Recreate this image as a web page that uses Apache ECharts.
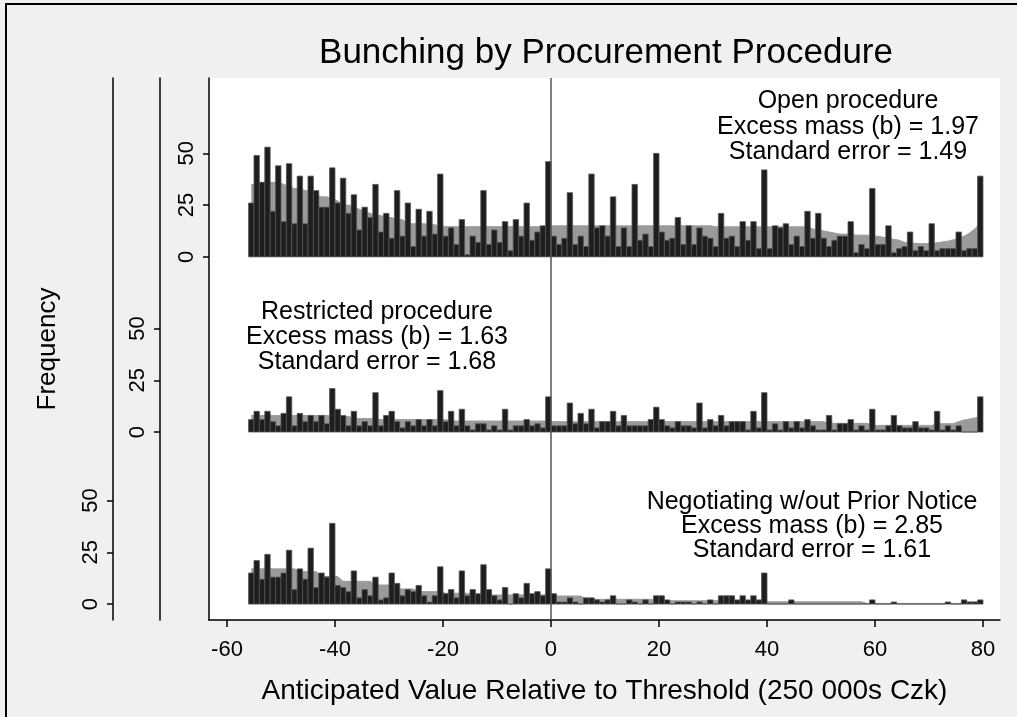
<!DOCTYPE html>
<html>
<head>
    <meta charset="utf-8">
    <title>Bunching by Procurement Procedure</title>
    <script src="https://cdn.jsdelivr.net/npm/echarts@6/dist/echarts.min.js"></script>
    <style>
        html, body { margin: 0; padding: 0; background: #f0f0f0; }
    </style>
</head>
<body>
    <div id="main" style="width: 1017px;height:717px;"></div>
    <script type="text/javascript">
        // bins are 1 unit wide, first bin starts at -56
        var binStart = -56;
        var xTicks = [-60, -40, -20, 0, 20, 40, 60, 80];
        var yTicks = [0, 25, 50];

        // Open procedure
        var openCounts = [
            26, 49, 36, 53, 22, 44, 17, 45, 16, 39,
            16, 39, 32, 24, 24, 43, 26, 38, 21, 30,
            13, 24, 19, 35, 12, 21, 9, 32, 10, 26,
            5, 23, 10, 22, 11, 40, 10, 14, 6, 18,
            1, 10, 7, 32, 6, 13, 7, 17, 3, 18,
            10, 26, 8, 12, 15, 46,
            10, 6, 9, 31, 6, 10, 5, 40, 14, 15,
            10, 29, 5, 14, 5, 35, 8, 11, 5, 50,
            12, 8, 9, 19, 6, 15, 6, 14, 10, 9,
            5, 21, 9, 10, 5, 17, 8, 17, 4, 42,
            4, 15, 14, 16, 6, 10, 5, 22, 9, 21,
            9, 5, 8, 10, 10, 17, 2, 6, 4, 33,
            6, 6, 15, 2, 4, 5, 12, 3, 5, 3,
            16, 3, 4, 4, 4, 12, 3, 4, 4, 39
        ];
        var openFit = [
            35, 35, 36, 36, 36, 36, 35, 34, 33, 33,
            32, 32, 30, 29, 29, 28, 27, 25, 25, 24,
            23, 22, 21, 20, 20, 19, 19, 18, 18, 16,
            16, 16, 16, 15.5, 15.5, 15, 14.6, 14.6, 14.6, 14.6,
            14.6, 14.6, 14.6, 14.6, 14.6, 14.6, 14.6, 14.6, 14.6, 14.6,
            14.6, 14.6, 14.6, 14.6, 14.6, 14.6,
            15, 15, 15, 15, 15, 15, 15, 15, 15, 15,
            15, 15, 15, 15, 15, 15, 15, 15, 15, 15,
            15, 15, 15, 15, 15, 15, 15, 15, 15, 15,
            14.5, 14.5, 14.5, 14.5, 14.5, 14.5, 14.5, 14.5, 14.5, 14.5,
            14.5, 14.5, 14.5, 14.5, 14.5, 14.5, 14.5, 14.5, 13.5, 13,
            12.5, 12, 11.5, 11, 11, 11, 10.5, 10.5, 10.5, 10,
            10, 9.5, 9, 8.5, 8, 7, 6.8, 6.5, 6.4, 6.4,
            6.5, 6.8, 7.2, 7.6, 8.2, 9, 10, 11.5, 13.5, 16.5
        ];

        // Restricted procedure
        var restrictedCounts = [
            6, 10, 6, 10, 5, 3, 9, 17, 3, 9,
            5, 8, 5, 8, 4, 21, 11, 8, 3, 10,
            3, 5, 3, 19, 3, 8, 10, 5, 2, 5,
            3, 6, 3, 6, 3, 20, 5, 10, 3, 11,
            3, 1, 4, 4, 1, 3, 1, 11, 1, 3,
            3, 6, 3, 4, 2, 17,
            3, 3, 3, 14, 4, 9, 4, 11, 2, 5,
            5, 10, 3, 8, 3, 3, 3, 3, 6, 12,
            6, 3, 2, 5, 3, 3, 2, 14, 2, 6,
            3, 8, 3, 5, 5, 5, 1, 10, 2, 19,
            1, 4, 1, 5, 2, 5, 2, 6, 3, 1,
            1, 8, 1, 4, 4, 6, 1, 3, 1, 11,
            1, 1, 3, 8, 3, 2, 2, 5, 2, 2,
            1, 10, 1, 3, 1, 3, 0, 0, 0, 17
        ];
        var restrictedFit = [
            8, 8, 8, 8, 8, 8, 8, 8, 8, 8,
            8, 8, 8, 8, 8, 7.5, 7.5, 7.5, 7.5, 6.5,
            6.5, 6.5, 6.5, 6.5, 6, 6, 6, 6, 6, 6,
            6, 6, 6, 6, 6, 6, 6, 5.3, 5.3, 5.3,
            5.3, 5.3, 5.3, 5.3, 5.3, 5.3, 5.3, 5.3, 5.3, 5.3,
            5.3, 5.3, 5.3, 5.3, 5.3, 5.3,
            5, 5, 5, 5, 5, 5, 5, 5, 5, 5,
            5, 5, 5, 5, 5, 5, 5, 5, 5, 5,
            5, 5, 5, 5, 5, 5, 5, 5, 5, 5,
            5, 5, 5, 5, 5, 5, 5, 5, 5, 5,
            5, 5, 5, 5, 5, 5, 5, 5, 5, 5,
            5, 4.2, 4.2, 4.2, 4.2, 4.2, 4.2, 4.2, 4.2, 3.2,
            3.2, 3.2, 3.2, 3.2, 3.2, 3.2, 3.2, 3.2, 3.2, 3.2,
            3.2, 4, 4, 4, 4, 5, 5.8, 6.3, 6.8, 7.5
        ];

        // Negotiating w/out prior notice
        var negotiatingCounts = [
            15, 21, 12, 24, 13, 13, 15, 26, 7, 17,
            12, 27, 8, 15, 13, 39, 9, 8, 6, 16,
            3, 7, 4, 13, 2, 3, 15, 10, 4, 7,
            6, 9, 4, 1, 4, 18, 5, 7, 3, 16,
            4, 7, 5, 19, 7, 4, 2, 8, 0, 5,
            3, 10, 5, 6, 4, 17,
            5, 1, 1, 3, 1, 0, 3, 3, 2, 1,
            2, 4, 0, 0, 2, 1, 0, 2, 0, 4,
            4, 2, 0, 1, 1, 1, 0, 1, 0, 2,
            0, 4, 4, 4, 2, 4, 2, 4, 2, 15,
            0, 0, 0, 0, 2, 0, 0, 0, 0, 0,
            0, 0, 0, 0, 0, 0, 0, 0, 0, 2,
            0, 0, 0, 1, 0, 0, 0, 0, 0, 0,
            0, 0, 0, 1, 0, 0, 2, 1, 1, 2
        ];
        var negotiatingFit = [
            17, 17, 17, 17, 17, 17, 17, 17, 17, 15.7,
            15.7, 15.7, 15.7, 13.3, 13.3, 13.3, 13.3, 11, 11, 11,
            11, 11, 11, 9.2, 9.2, 9.2, 9.2, 7.3, 7.3, 7.3,
            7.3, 6, 6, 6, 6, 6, 5.2, 5.2, 5.2, 5.2,
            5.2, 4.4, 4.4, 4.4, 4.4, 4.4, 4.4, 4.4, 4.4, 4.4,
            4.4, 4.4, 4.4, 4.4, 4.4, 4.4,
            3.9, 3.9, 3.9, 3.9, 3.9, 3.9, 2.3, 2.3, 2.3, 2.3,
            2.3, 2.3, 2.3, 2.3, 2.3, 2.3, 2.3, 2.3, 2.3, 1.6,
            1.6, 1.6, 1.6, 1.6, 1.6, 1.6, 1.6, 1.6, 1.6, 1.6,
            1.6, 1.6, 1.6, 1.6, 1.6, 1.6, 1.6, 1.6, 1.6, 1.6,
            1.1, 1.1, 1.1, 1.1, 1.1, 1.1, 1.1, 1.1, 1.1, 1.1,
            1.1, 1.1, 1.1, 1.1, 1.1, 1.1, 1.1, 1.1, 0.3, 0.3,
            0.3, 0.3, 0.3, 0.3, 0.3, 0.3, 0.3, 0.3, 0.3, 0.3,
            0.3, 0.3, 0.3, 0.3, 0.3, 0.3, 0.3, 1, 1, 1
        ];

        var panelNotes = [
            'Open procedure\nExcess mass (b) = 1.97\nStandard error = 1.49',
            'Restricted procedure\nExcess mass (b) = 1.63\nStandard error = 1.68',
            'Negotiating w/out Prior Notice\nExcess mass (b) = 2.85\nStandard error = 1.61'
        ];

        var font = '"Liberation Sans", Arial, sans-serif';
        var myChart = echarts.init(document.getElementById('main'));

        function barData(counts) {
            return counts.map(function (v, i) { return [binStart + i, v]; });
        }
        function fitData(fit) {
            return fit.map(function (v, i) { return [binStart + i + 0.5, v]; });
        }
        // histogram bars, one bin wide
        function renderBin(params, api) {
            var x0 = api.value(0);
            var v = api.value(1);
            var a = api.coord([x0, 0]);
            var b = api.coord([x0 + 1, v]);
            return {
                type: 'rect',
                shape: { x: a[0], y: b[1], width: b[0] - a[0], height: a[1] - b[1] },
                style: { fill: '#1e1e1e', stroke: '#555', lineWidth: 0.8 }
            };
        }
        function yAxisFor(offset, min, max) {
            return {
                type: 'value',
                position: 'left',
                offset: offset,
                min: min,
                max: max,
                axisLine: { show: true, onZero: false, lineStyle: { color: '#000', width: 1.5 } },
                axisTick: { show: true, customValues: yTicks, length: 6, lineStyle: { color: '#000', width: 1.5 } },
                axisLabel: { customValues: yTicks, rotate: 90, fontSize: 22, color: '#000', margin: 11, fontFamily: font },
                splitLine: { show: false }
            };
        }
        function fitSeries(fit, idx) {
            return {
                type: 'line',
                yAxisIndex: idx,
                data: fitData(fit),
                symbol: 'none',
                silent: true,
                z: 1,
                lineStyle: { width: 1, color: '#9a9a9a' },
                areaStyle: { color: '#9a9a9a', opacity: 1, origin: 0 }
            };
        }
        function binSeries(counts, idx) {
            return {
                type: 'custom',
                yAxisIndex: idx,
                data: barData(counts),
                renderItem: renderBin,
                encode: { x: 0, y: 1 },
                silent: true,
                z: 3
            };
        }
        function note(text, x, y, lh) {
            return {
                type: 'text', x: x, y: y, silent: true,
                style: {
                    text: text, font: '25px ' + font, fill: '#000', lineHeight: lh,
                    textAlign: 'center', textVerticalAlign: 'middle', align: 'center', verticalAlign: 'middle'
                }
            };
        }

        var option = {
            animation: false,
            backgroundColor: '#f0f0f0',
            textStyle: { fontFamily: font },
            grid: {
                left: 209, top: 78, width: 791, height: 542,
                show: true, backgroundColor: '#fff', borderWidth: 0
            },
            xAxis: {
                type: 'value',
                min: -63.33,
                max: 83.15,
                axisLine: { show: true, onZero: false, lineStyle: { color: '#000', width: 1.5 } },
                axisTick: { show: true, customValues: xTicks, length: 7, lineStyle: { color: '#000', width: 1.5 } },
                axisLabel: { customValues: xTicks, fontSize: 22, color: '#000', margin: 19, fontFamily: font },
                splitLine: { show: false },
                name: 'Anticipated Value Relative to Threshold (250 000s Czk)',
                nameLocation: 'middle',
                nameGap: 57,
                nameTextStyle: { fontSize: 28, color: '#000', fontFamily: font }
            },
            yAxis: [
                yAxisFor(0, -175.4, 86.4),
                yAxisFor(49, -90.8, 171),
                Object.assign(yAxisFor(96, -7.7, 254.1), {
                    name: 'Frequency',
                    nameLocation: 'middle',
                    nameRotate: 90,
                    nameGap: 52,
                    nameTextStyle: { fontSize: 26, color: '#000', fontFamily: font }
                })
            ],
            graphic: [
                {
                    type: 'polyline', silent: true,
                    shape: { points: [[6, 717], [6, 4], [1017, 4]] },
                    style: { fill: null, stroke: '#000', lineWidth: 2 }
                },
                {
                    type: 'text', x: 606, y: 53, silent: true,
                    style: {
                        text: 'Bunching by Procurement Procedure',
                        font: '35px ' + font, fill: '#000',
                        textAlign: 'center', textVerticalAlign: 'middle',
                        align: 'center', verticalAlign: 'middle'
                    }
                },
                note(panelNotes[0], 848, 127, 25.5),
                note(panelNotes[1], 377, 337, 25),
                note(panelNotes[2], 812, 526, 24)
            ],
            series: [
                fitSeries(openFit, 0),
                fitSeries(restrictedFit, 1),
                fitSeries(negotiatingFit, 2),
                {
                    // reference line at the threshold
                    type: 'line',
                    yAxisIndex: 0,
                    data: [],
                    z: 2,
                    markLine: {
                        silent: true,
                        symbol: 'none',
                        label: { show: false },
                        lineStyle: { color: '#555', width: 1.5, type: 'solid' },
                        data: [{ xAxis: 0 }]
                    }
                },
                binSeries(openCounts, 0),
                binSeries(restrictedCounts, 1),
                binSeries(negotiatingCounts, 2)
            ]
        };

        myChart.setOption(option);
    </script>
</body>
</html>
